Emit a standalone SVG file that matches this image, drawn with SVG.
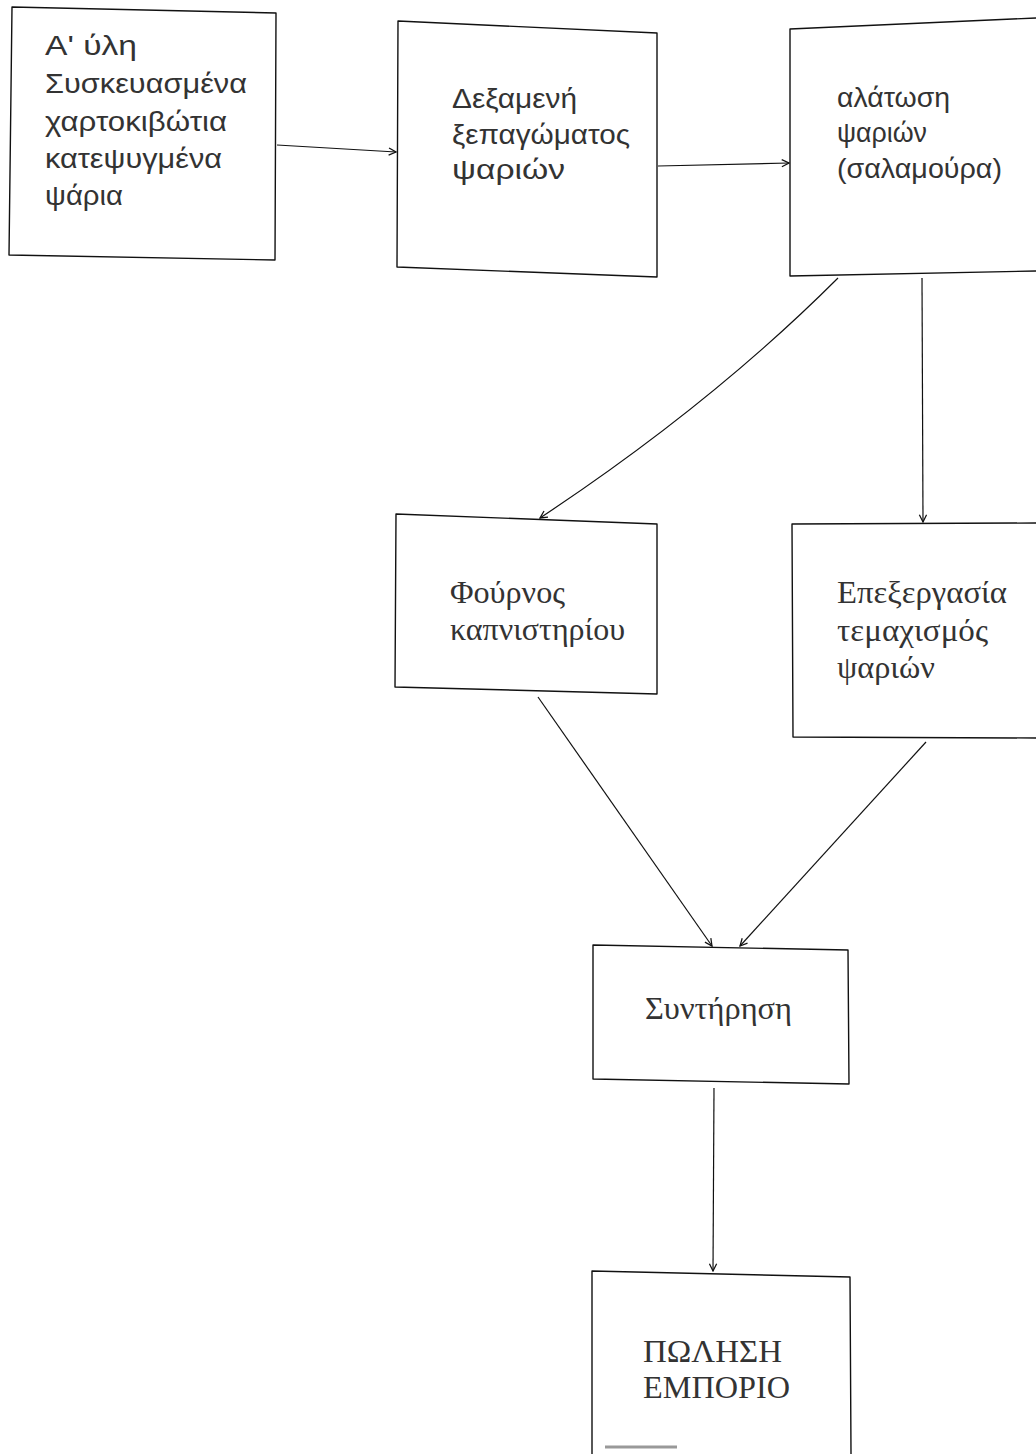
<svg xmlns="http://www.w3.org/2000/svg" width="1036" height="1454" viewBox="0 0 1036 1454">
<style>
.box{fill:none;stroke:#111;stroke-width:1.4;stroke-linejoin:round}
.con{fill:none;stroke:#111;stroke-width:1.2}
.sans{font-family:"Liberation Sans","DejaVu Sans",sans-serif;font-size:28px;fill:#333}
.serif{font-family:"Liberation Serif","DejaVu Serif",serif;font-size:31px;fill:#333}
</style>
<defs>
<marker id="arr" viewBox="0 0 10 10" refX="9" refY="5" markerWidth="9" markerHeight="9" markerUnits="userSpaceOnUse" orient="auto">
<path d="M1,1 L9,5 L1,9" fill="none" stroke="#111" stroke-width="1.4"/>
</marker>
</defs>
<rect width="1036" height="1454" fill="#fff"/>

<g id="n1">
<path class="box" d="M12,7 L276,13 L275,260 L9,255 Z"/>
<text class="sans" x="45" y="55" textLength="92" lengthAdjust="spacingAndGlyphs">Α' ύλη</text>
<text class="sans" x="45" y="93" textLength="202" lengthAdjust="spacingAndGlyphs">Συσκευασμένα</text>
<text class="sans" x="45" y="131" textLength="182" lengthAdjust="spacingAndGlyphs">χαρτοκιβώτια</text>
<text class="sans" x="45" y="168" textLength="177" lengthAdjust="spacingAndGlyphs">κατεψυγμένα</text>
<text class="sans" x="45" y="205" textLength="78" lengthAdjust="spacingAndGlyphs">ψάρια</text>
</g>

<g id="n2">
<path class="box" d="M398,21 L657,33 L657,277 L397,267 Z"/>
<text class="sans" x="452" y="108" textLength="125" lengthAdjust="spacingAndGlyphs">Δεξαμενή</text>
<text class="sans" x="452" y="144" textLength="178" lengthAdjust="spacingAndGlyphs">ξεπαγώματος</text>
<text class="sans" x="452" y="179" textLength="113" lengthAdjust="spacingAndGlyphs">ψαριών</text>
</g>

<g id="n3">
<path class="box" d="M1036,18 L790,29 L790,276 L1036,271"/>
<text class="sans" x="837" y="107" textLength="113" lengthAdjust="spacingAndGlyphs">αλάτωση</text>
<text class="sans" x="837" y="142" textLength="90" lengthAdjust="spacingAndGlyphs">ψαριών</text>
<text class="sans" x="837" y="178" textLength="165" lengthAdjust="spacingAndGlyphs">(σαλαμούρα)</text>
</g>

<g id="n4">
<path class="box" d="M396,514 L657,524 L657,694 L395,687 Z"/>
<text class="serif" x="450" y="603" textLength="115" lengthAdjust="spacingAndGlyphs">Φούρνος</text>
<text class="serif" x="450" y="640" textLength="175" lengthAdjust="spacingAndGlyphs">καπνιστηρίου</text>
</g>

<g id="n5">
<path class="box" d="M1036,523 L792,524 L793,737 L1036,738"/>
<text class="serif" x="837" y="603" textLength="170" lengthAdjust="spacingAndGlyphs">Επεξεργασία</text>
<text class="serif" x="837" y="641" textLength="151" lengthAdjust="spacingAndGlyphs">τεμαχισμός</text>
<text class="serif" x="837" y="678" textLength="98" lengthAdjust="spacingAndGlyphs">ψαριών</text>
</g>

<g id="n6">
<path class="box" d="M593,945 L848,950 L849,1084 L593,1079 Z"/>
<text class="serif" x="645" y="1019" textLength="147" lengthAdjust="spacingAndGlyphs">Συντήρηση</text>
</g>

<g id="n7">
<path class="box" d="M592,1454 L592,1271 L850,1277 L851,1454"/>
<text class="serif" x="643" y="1362" textLength="139" lengthAdjust="spacingAndGlyphs">ΠΩΛΗΣΗ</text>
<text class="serif" x="643" y="1398" textLength="147" lengthAdjust="spacingAndGlyphs">ΕΜΠΟΡΙΟ</text>
<line x1="605" y1="1447" x2="677" y2="1447" stroke="#999" stroke-width="3"/>
</g>

<g id="connectors">
<path class="con" d="M277,145 L396,152" marker-end="url(#arr)"/>
<path class="con" d="M658,166 L789,163" marker-end="url(#arr)"/>
<path class="con" d="M838,278 Q712,404 540,518" marker-end="url(#arr)"/>
<path class="con" d="M922,278 L923,522" marker-end="url(#arr)"/>
<path class="con" d="M538,697 L712,946" marker-end="url(#arr)"/>
<path class="con" d="M926,742 L740,946" marker-end="url(#arr)"/>
<path class="con" d="M714,1088 L713,1271" marker-end="url(#arr)"/>
</g>
</svg>
